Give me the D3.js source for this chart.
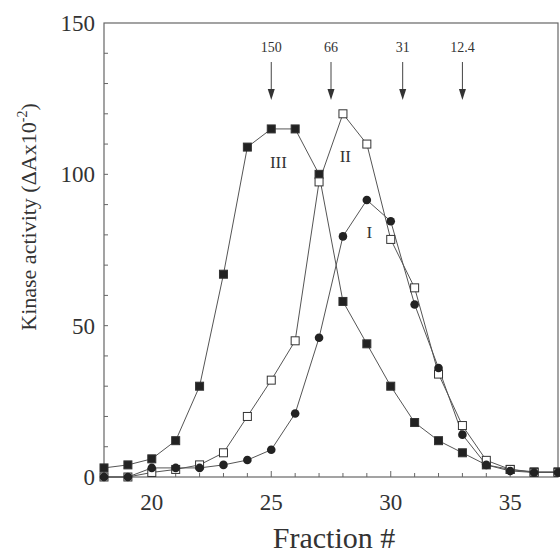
<!DOCTYPE html>
<html>
<head>
<meta charset="utf-8">
<script src="https://cdn.jsdelivr.net/npm/d3@7"></script>
<style>
  body { margin: 0; background: #fff; }
  text { font-family: "Liberation Serif", "Times New Roman", "DejaVu Serif", serif; }
</style>
</head>
<body>
<div id="chart"></div>
<script>
// fractions collected
const fractions = [18, 19, 20, 21, 22, 23, 24, 25, 26, 27, 28, 29, 30, 31, 32, 33, 34, 35, 36, 37];

// peak I (filled circles)
const peakI = [0, 0, 3, 3, 3, 4, 5.6, 9, 21, 46, 79.5, 91.5, 84.5, 57, 36, 14, 4, 2, 1.5, 1.5];
// peak II (open squares)
const peakII = [0, 0, 1.5, 2.5, 4, 8, 20, 32, 45, 97.5, 120, 110, 78.5, 62.5, 34, 17, 5.5, 2.5, 1.5, 1.5];
// peak III (filled squares)
const peakIII = [3, 4, 6, 12, 30, 67, 109, 115, 115, 100, 58, 44, 30, 18, 12, 8, 4, 2.5, 1.7, 1.7];

// size markers (kDa) and where they elute
const markerLabels = ["150", "66", "31", "12.4"];
const markerFractions = [25, 27.5, 30.5, 33];

const yTicks = [0, 50, 100, 150];
const xTicks = [20, 25, 30, 35];

const width = 560, height = 560;
const margin = {top: 23, right: 2, bottom: 83, left: 104};
const ink = "#333";
const serif = "'Liberation Serif', 'Times New Roman', serif";

const x = d3.scaleLinear().domain([18, 37]).range([margin.left, width - margin.right]);
const y = d3.scaleLinear().domain([0, 150]).range([height - margin.bottom, margin.top]);

const svg = d3.select("#chart").append("svg")
    .attr("width", width)
    .attr("height", height)
    .attr("font-family", serif);

// frame
svg.append("rect")
    .attr("x", x(18)).attr("y", y(150))
    .attr("width", x(37) - x(18)).attr("height", y(0) - y(150))
    .attr("fill", "none").attr("stroke", "#666").attr("stroke-width", 1.2);

// y axis: ticks inside
const yAxis = svg.append("g").attr("transform", `translate(${x(18)},0)`);
yAxis.selectAll("line.minor")
    .data(d3.range(10, 150, 10))
    .join("line")
    .attr("x1", 0).attr("x2", 4)
    .attr("y1", d => y(d)).attr("y2", d => y(d))
    .attr("stroke", "#666");
yAxis.selectAll("text")
    .data(yTicks)
    .join("text")
    .attr("x", -9).attr("y", d => y(d))
    .attr("dy", "0.35em")
    .attr("text-anchor", "end")
    .attr("font-size", 23)
    .attr("fill", ink)
    .text(d => d);

// x axis: ticks inside
const xAxis = svg.append("g").attr("transform", `translate(0,${y(0)})`);
xAxis.selectAll("line")
    .data(d3.range(19, 37))
    .join("line")
    .attr("x1", d => x(d)).attr("x2", d => x(d))
    .attr("y1", 0).attr("y2", d => d % 5 === 0 ? -6 : -4)
    .attr("stroke", "#666");
xAxis.selectAll("text")
    .data(xTicks)
    .join("text")
    .attr("x", d => x(d)).attr("y", 33)
    .attr("text-anchor", "middle")
    .attr("font-size", 23)
    .attr("fill", ink)
    .text(d => d);

// axis titles
svg.append("text")
    .attr("x", 334).attr("y", 548)
    .attr("text-anchor", "middle")
    .attr("font-size", 30)
    .attr("fill", ink)
    .text("Fraction #");

const yTitle = svg.append("text")
    .attr("transform", "translate(36,217) rotate(-90)")
    .attr("text-anchor", "middle")
    .attr("font-size", 22)
    .attr("fill", ink);
yTitle.append("tspan").text("Kinase activity (\u0394Ax10");
yTitle.append("tspan").attr("font-size", 14).attr("dy", -9).text("-2");
yTitle.append("tspan").attr("dy", 9).text(")");

// series
const line = d3.line().x((d, i) => x(fractions[i])).y(d => y(d));
const series = [
  {name: "III", values: peakIII, shape: "square", fill: "#222"},
  {name: "II", values: peakII, shape: "square", fill: "#fff"},
  {name: "I", values: peakI, shape: "circle", fill: "#222"}
];

series.forEach(s => {
  svg.append("path")
      .attr("d", line(s.values))
      .attr("fill", "none")
      .attr("stroke", "#555")
      .attr("stroke-width", 1);
});

series.forEach(s => {
  const g = svg.append("g");
  if (s.shape === "square") {
    g.selectAll("rect")
      .data(s.values)
      .join("rect")
      .attr("x", (d, i) => x(fractions[i]) - 4)
      .attr("y", d => y(d) - 4)
      .attr("width", 8).attr("height", 8)
      .attr("fill", s.fill)
      .attr("stroke", "#333").attr("stroke-width", 1);
  } else {
    g.selectAll("circle")
      .data(s.values)
      .join("circle")
      .attr("cx", (d, i) => x(fractions[i]))
      .attr("cy", d => y(d))
      .attr("r", 4.3)
      .attr("fill", s.fill);
  }
});

// peak labels
const peakLabels = [
  {t: "III", fx: 25.3, v: 102},
  {t: "II", fx: 28.1, v: 104},
  {t: "I", fx: 29.1, v: 79}
];
svg.selectAll("text.peak")
    .data(peakLabels)
    .join("text")
    .attr("class", "peak")
    .attr("x", d => x(d.fx)).attr("y", d => y(d.v))
    .attr("text-anchor", "middle")
    .attr("font-size", 17)
    .attr("fill", ink)
    .text(d => d.t);

// size marker arrows
const arrows = svg.append("g");
markerFractions.forEach((f, i) => {
  const cx = x(f);
  arrows.append("text")
      .attr("x", cx).attr("y", 52)
      .attr("text-anchor", "middle")
      .attr("font-size", 14)
      .attr("fill", ink)
      .text(markerLabels[i]);
  arrows.append("line")
      .attr("x1", cx).attr("x2", cx)
      .attr("y1", 62).attr("y2", 92)
      .attr("stroke", "#444").attr("stroke-width", 1);
  arrows.append("path")
      .attr("d", `M${cx - 3.5},89 L${cx + 3.5},89 L${cx},100 Z`)
      .attr("fill", "#333");
});
</script>
</body>
</html>
